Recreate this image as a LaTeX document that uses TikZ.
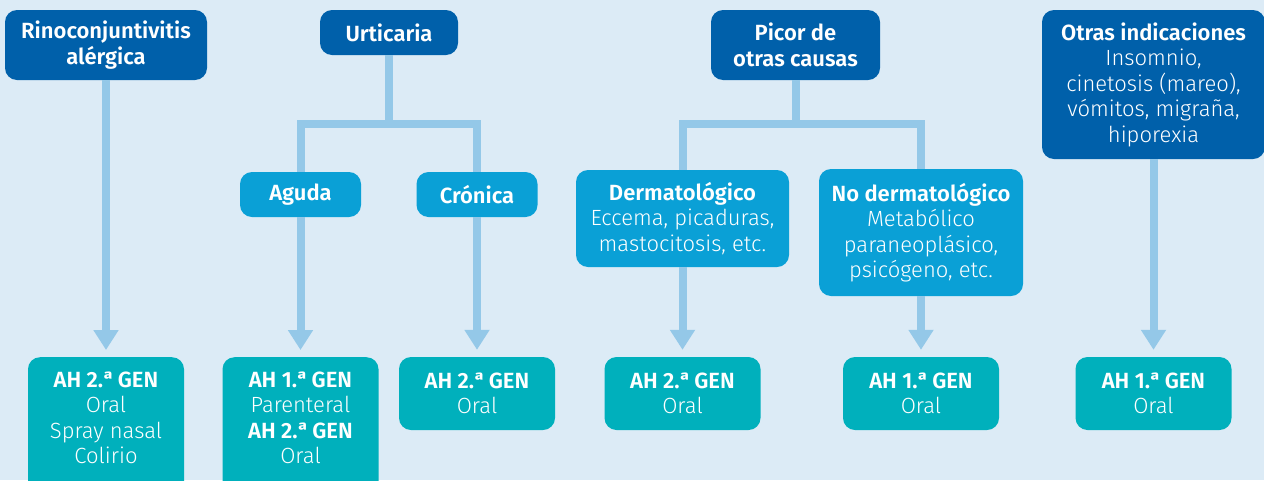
\documentclass[tikz,border=0pt]{standalone}
\usepackage{fontspec}
\setmainfont{Fira Sans}[UprightFont={* Light}, BoldFont={* SemiBold}]
\newfontfamily\ordfont{PT Sans}
\newcommand{\ordA}{{\ordfont ª}}
\usetikzlibrary{arrows.meta}
\definecolor{bgc}{RGB}{220,235,246}
\definecolor{darkc}{RGB}{0,96,170}
\definecolor{midc}{RGB}{10,160,214}
\definecolor{tealc}{RGB}{0,176,188}
\definecolor{connc}{RGB}{148,200,232}
\begin{document}
\begin{tikzpicture}[x=1pt,y=-1pt,
  box/.style={rounded corners=12pt, inner sep=0pt, text=white, align=center,
    font=\fontsize{22}{25.5}\selectfont},
  topbox/.style={box, fill=darkc},
  midbox/.style={box, fill=midc},
  botbox/.style={box, fill=tealc, minimum width=156pt},
  txt/.style={inner sep=0pt, text=white, align=center, font=\fontsize{22}{25.5}\selectfont},
  link/.style={draw=connc, line width=8pt},
  arr/.style={link, -{Triangle[width=24pt,length=20pt]}, shorten >=7pt}
]
\clip (0,0) rectangle (1264,480);
\fill[bgc] (0,0) rectangle (1264,480);

% top level
\node[topbox, minimum width=202pt, minimum height=70pt] (rino) at (106,45) {\textbf{Rinoconjuntivitis}\\\textbf{alérgica}};
\node[topbox, minimum width=138pt, minimum height=45pt] (urt) at (389,32.5) {\textbf{Urticaria}};
\node[topbox, minimum width=169pt, minimum height=70pt] (picor) at (795.5,45) {\textbf{Picor de}\\\textbf{otras causas}};
\node[topbox, minimum width=223pt, minimum height=149pt] (otras) at (1153.5,84.5) {\textbf{Otras indicaciones}\\Insomnio,\\cinetosis (mareo),\\vómitos, migraña,\\hiporexia};

% second level
\node[midbox, minimum width=121pt, minimum height=45pt] (agu) at (300.5,194.5) {\textbf{Aguda}};
\node[midbox, minimum width=121pt, minimum height=45pt] (cro) at (477,194.5) {\textbf{Crónica}};
\node[midbox, minimum width=213pt, minimum height=97pt] (derm) at (682.5,218.5) {\textbf{Dermatológico}\\Eccema, picaduras,\\mastocitosis, etc.};
\node[midbox, minimum width=204pt, minimum height=127pt] (nod) at (921,232.5) {\textbf{No dermatológico}\\Metabólico\\paraneoplásico,\\psicógeno, etc.};

% bottom level
\node[botbox, minimum height=140pt, anchor=north] (rB) at (106,357) {};
\node[txt] (rBt) at (106,418) {\textbf{AH 2.\ordA{} GEN}\\Oral\\Spray nasal\\Colirio};
\node[botbox, minimum height=140pt, anchor=north] (aB) at (300.5,357) {};
\node[txt] (aBt) at (300.5,418) {\textbf{AH 1.\ordA{} GEN}\\Parenteral\\\textbf{AH 2.\ordA{} GEN}\\Oral};
\node[botbox, minimum height=73pt] (cB) at (477,393.5) {\textbf{AH 2.\ordA{} GEN}\\Oral};
\node[botbox, minimum height=73pt] (dB) at (682.5,393.5) {\textbf{AH 2.\ordA{} GEN}\\Oral};
\node[botbox, minimum height=73pt] (nB) at (921,393.5) {\textbf{AH 1.\ordA{} GEN}\\Oral};
\node[botbox, minimum height=73pt] (oB) at (1153.5,393.5) {\textbf{AH 1.\ordA{} GEN}\\Oral};

% connectors
\coordinate (ut) at (389,124);
\coordinate (pt) at (795.5,124);
\draw[link] (urt.south) -- (ut);
\draw[link] (agu.north) |- (ut) -| (cro.north);
\draw[link] (picor.south) -- (pt);
\draw[link] (derm.north) |- (pt) -| (nod.north);

\draw[arr] (rino.south) -- (rB.north);
\draw[arr] (agu.south) -- (aB.north);
\draw[arr] (cro.south) -- (cB.north);
\draw[arr] (derm.south) -- (dB.north);
\draw[arr] (nod.south) -- (nB.north);
\draw[arr] (otras.south) -- (oB.north);
\end{tikzpicture}
\end{document}
